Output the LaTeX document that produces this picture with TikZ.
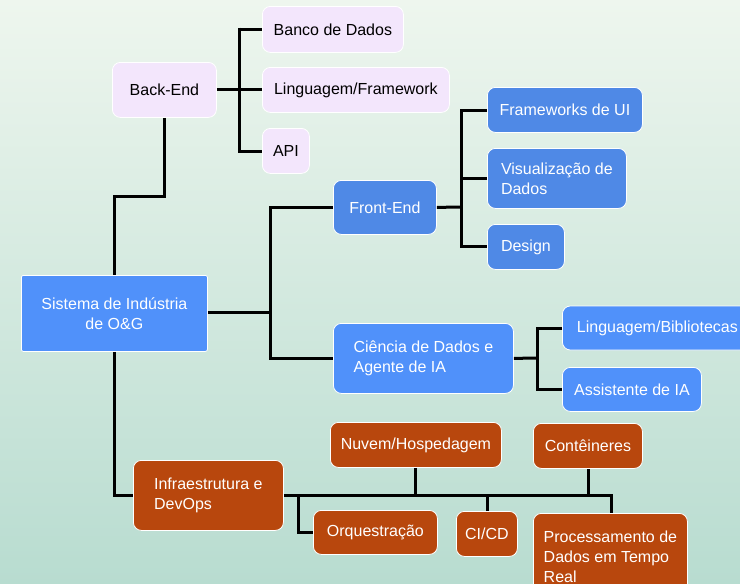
\documentclass[tikz,border=0pt]{standalone}
\usepackage{fontspec}
\setmainfont{Liberation Sans}
\usetikzlibrary{positioning}

\definecolor{bgtop}{HTML}{EEF6EE}
\definecolor{bgbot}{HTML}{B8DCD0}
\definecolor{lilac}{HTML}{F3E6FC}
\definecolor{feblue}{HTML}{4F89E6}
\definecolor{mainblue}{HTML}{5091FA}
\definecolor{rust}{HTML}{B8470D}

\tikzset{
  box/.style={draw=white, line width=0.8pt, rounded corners=8pt, font=\fontsize{16}{20}\selectfont,
    inner xsep=8pt, inner ysep=0pt, align=left, anchor=north west},
  back/.style={box, fill=lilac, text=black},
  front/.style={box, fill=feblue, text=white},
  sci/.style={box, fill=mainblue, text=white},
  infra/.style={box, fill=rust, text=white},
  link/.style={line width=3pt, black}
}

\begin{document}
\begin{tikzpicture}[x=1pt, y=-1pt]
\shade[top color=bgtop, bottom color=bgbot] (0,0) rectangle (740,584);
\useasboundingbox (0,0) rectangle (740,584);

% root
\node[sci, rounded corners=2pt, align=center, minimum width=186pt, minimum height=76pt] (root) at (21,275) {Sistema de Indústria\\de O\&G};

% back-end
\node[back, minimum width=104pt, minimum height=55pt] (be) at (112,62) {Back-End};
\node[back, minimum width=141pt, minimum height=46pt] (db) at (262,6) {Banco de Dados};
\node[back, minimum width=187pt, minimum height=45pt] (lang) at (262,67) {Linguagem/Framework};
\node[back, minimum width=47pt, minimum height=45pt] (api) at (262,128) {API};

% front-end
\node[front, minimum width=103pt, minimum height=54pt] (fe) at (333,180) {Front-End};
\node[front, minimum width=155pt, minimum height=45pt] (ui) at (487,87) {Frameworks de UI};
\node[front, minimum width=139pt, minimum height=60pt] (vis) at (487,148) {Visualização de\\Dados};
\node[front, minimum width=77pt, minimum height=45pt] (des) at (487,224) {Design};

% ciencia de dados
\node[sci, minimum width=180pt, minimum height=70pt] (ds) at (333,323) {Ciência de Dados e\\Agente de IA};
\node[sci, minimum width=190pt, minimum height=44pt, inner xsep=10pt, anchor=west] (lib) at (562,328) {Linguagem/Bibliotecas};
\node[sci, minimum width=139pt, minimum height=44pt] (ass) at (562,367) {Assistente de IA};

% infra
\node[infra, minimum width=150pt, minimum height=70pt] (inf) at (133,460) {Infraestrutura e\\DevOps};
\node[infra, minimum width=171pt, minimum height=45pt] (cloud) at (330,422) {Nuvem/Hospedagem};
\node[infra, minimum width=109pt, minimum height=45pt] (cont) at (533,423) {Contêineres};
\node[infra, minimum width=124pt, minimum height=44pt] (orq) at (313,510) {Orquestração};
\node[infra, minimum width=61pt, minimum height=45pt] (cicd) at (456,511) {CI/CD};
\node[infra, minimum width=154pt, minimum height=86pt] (rt) at (533,513) {Processamento de\\Dados em Tempo\\Real};

% links
\draw[link] (be.south) |- (114,196) -- (root.north -| 114,0);
\draw[link] (be.east) -- (be.east -| 239,0);
\draw[link] (239,29) -- (db.west |- 0,29);
\draw[link] (239,27.5) -- (239,152.5);
\draw[link] (lang.west) -- (lang.west -| 239,0);
\draw[link] (239,151) -- (api.west |- 0,151);

\draw[link] (root.east |- 0,312) -- (270,312);
\draw[link] (fe.west) -| (270,312) |- (ds.west);

\draw[link] (fe.east) -- (461,207);
\draw[link] (ui.west |- 0,110) -| (des.west -| 461,0) -- (des.west);
\draw[link] (vis.west) -- (vis.west -| 461,0);

\draw[link] (ds.east) -- (537,358);
\draw[link] (lib.west |- 0,328) -| (537,389) -- (ass.west |- 0,389);

\draw[link] (root.south -| 114,0) |- (inf.west |- 0,495);
\draw[link] (inf.east |- 0,495) -- (611,495) -- (rt.north -| 611,0);
\draw[link] (298,495) |- (orq.west);
\draw[link] (cloud.south -| 415,0) -- (415,495);
\draw[link] (cicd.north -| 487,0) -- (487,495);
\draw[link] (cont.south -| 588,0) -- (588,495);
\end{tikzpicture}
\end{document}
